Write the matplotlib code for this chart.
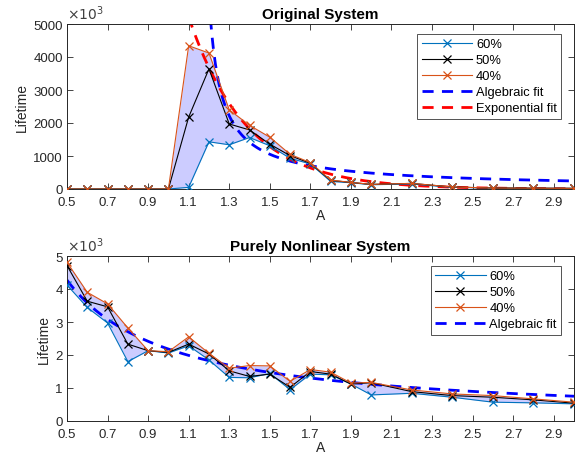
import numpy as np
import matplotlib
matplotlib.use("Agg")
import matplotlib.pyplot as plt

plt.rcParams['font.family'] = ['Liberation Sans', 'DejaVu Sans']

A = [0.5, 0.6, 0.7, 0.8, 0.9, 1.0, 1.1, 1.2, 1.3, 1.4, 1.5, 1.6, 1.7, 1.8, 1.9, 2.0,
     2.2, 2.4, 2.6, 2.8, 3.0]

# Original system lifetimes
orig_60 = [0, 0, 0, 0, 0, 0, 50, 1430, 1340, 1560, 1310, 930, 760, 230, 190, 130,
           150, 50, 30, 20, 20]
orig_50 = [0, 0, 0, 0, 0, 0, 2180, 3640, 1970, 1790, 1360, 1010, 780, 260, 200, 140,
           170, 60, 30, 25, 20]
orig_40 = [0, 0, 0, 0, 0, 0, 4340, 4120, 2400, 1930, 1570, 1050, 800, 270, 200, 140,
           170, 60, 30, 25, 20]

# Purely nonlinear system lifetimes
nl_60 = [4120, 3440, 2970, 1800, 2130, 2060, 2280, 1850, 1320, 1310, 1440, 950, 1420,
         1400, 1120, 790, 840, 720, 570, 550, 520]
nl_50 = [4710, 3630, 3460, 2330, 2130, 2080, 2330, 2030, 1520, 1350, 1420, 1020, 1500,
         1420, 1120, 1160, 890, 770, 720, 640, 540]
nl_40 = [4810, 3900, 3550, 2820, 2130, 2100, 2550, 2050, 1600, 1680, 1670, 1200, 1560,
         1480, 1150, 1170, 940, 820, 770, 670, 570]

# Fit parameters
alg1_a, alg1_x0, alg1_p = 418.0, 1.15, 0.88     # a/(A-x0)^p
exp1_a, exp1_b = 245000.0, 3.5                  # a*exp(-b*A)
alg2_a, alg2_p = 2180.0, 0.97                   # a/A^p

xticks = [0.5, 0.7, 0.9, 1.1, 1.3, 1.5, 1.7, 1.9, 2.1, 2.3, 2.5, 2.7, 2.9]

C60 = '#0072BD'
C40 = '#D95319'
FILL = '#ccccff'

W, H = 580, 464
fig = plt.figure(figsize=(W/100, H/100), dpi=100)

def make_ax(top, bottom):
    return fig.add_axes([67/W, 1 - bottom/H, (574-67)/W, (bottom-top)/H])

ax1 = make_ax(25, 190)
ax2 = make_ax(257, 422)

def style(ax):
    ax.set_xlim(0.5, 3.0)
    ax.set_ylim(0, 5000)
    ax.set_xticks(xticks)
    ax.set_xticklabels([f"{t:.1f}" for t in xticks])
    ax.tick_params(direction='in', top=True, right=True, length=4, width=0.6,
                   labelsize=9.5, colors='#262626')
    ax.tick_params(axis='x', pad=5)
    ax.tick_params(axis='y', pad=3)
    for s in ax.spines.values():
        s.set_color('#262626')
        s.set_linewidth(0.7)
    ax.set_xlabel('A', fontsize=10, color='#262626', labelpad=0)
    ax.set_ylabel('Lifetime', fontsize=10, color='#262626', labelpad=3)
    ax.text(0.0, 1.01, r'$\times 10^3$', transform=ax.transAxes, fontsize=10,
            color='#404040', ha='left', va='bottom')

def draw_series(ax, s60, s50, s40):
    ax.fill_between(A, s60, s40, color=FILL, linewidth=0, zorder=1)
    ax.plot(A, s60, '-x', color=C60, lw=0.8, ms=5.5, mew=0.9, label='60%', zorder=3)
    ax.plot(A, s50, '-x', color='black', lw=0.8, ms=5.5, mew=0.9, label='50%', zorder=3)
    ax.plot(A, s40, '-x', color=C40, lw=0.8, ms=5.5, mew=0.9, label='40%', zorder=3)

def legend(ax):
    leg = ax.legend(loc='upper right', bbox_to_anchor=(0.975, 0.94), fontsize=9.3,
                    frameon=True, fancybox=False, edgecolor='#262626',
                    handlelength=3.9, handletextpad=0.3, borderpad=0.35,
                    labelspacing=0.3, borderaxespad=0)
    leg.get_frame().set_linewidth(0.7)

# Top
draw_series(ax1, orig_60, orig_50, orig_40)
xa = np.linspace(1.2, 3.0, 400)
ax1.plot(xa, alg1_a / (xa - alg1_x0) ** alg1_p, '--', color='#0000ff', lw=2,
         dashes=(4, 3), label='Algebraic fit', zorder=2)
xe = np.linspace(1.1, 3.0, 400)
ax1.plot(xe, exp1_a * np.exp(-exp1_b * xe), '--', color='#ff0000', lw=2,
         dashes=(4, 3), label='Exponential fit', zorder=2)
style(ax1)
ax1.set_yticks([0, 1000, 2000, 3000, 4000, 5000])
ax1.set_yticklabels(['0', '1000', '2000', '3000', '4000', '5000'])
ax1.set_title('Original System', fontsize=11, fontweight='bold', pad=4)
legend(ax1)

# Bottom
draw_series(ax2, nl_60, nl_50, nl_40)
xb = np.linspace(0.5, 3.0, 400)
ax2.plot(xb, alg2_a / xb ** alg2_p, '--', color='#0000ff', lw=2, dashes=(4, 3),
         label='Algebraic fit', zorder=2)
style(ax2)
ax2.set_yticks([0, 1000, 2000, 3000, 4000, 5000])
ax2.set_yticklabels(['0', '1', '2', '3', '4', '5'])
ax2.set_title('Purely Nonlinear System', fontsize=11, fontweight='bold', pad=4)
legend(ax2)

fig.savefig('out.png', dpi=100)
